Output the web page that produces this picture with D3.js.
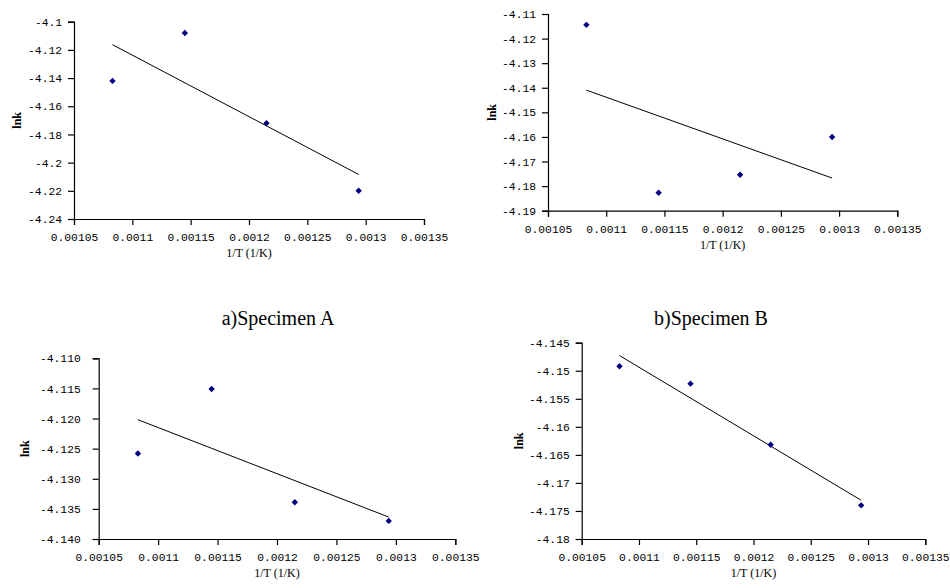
<!DOCTYPE html>
<html><head><meta charset="utf-8">
<script src="https://cdn.jsdelivr.net/npm/d3@7"></script>
<style>
body{margin:0;background:#fff;}
svg{display:block;}
.tick text{font-family:"Liberation Mono",monospace;font-size:11.3px;fill:#000;}
</style></head>
<body>
<svg id="chart" width="950" height="588"></svg>
<script>
// ---- data ----
const invT = [0.001083, 0.001145, 0.001215, 0.001294];
const lnkA1 = [-4.142, -4.108, -4.172, -4.220];
const lnkB1 = [-4.1144, -4.1827, -4.1754, -4.160];
const lnkA2 = [-4.1258, -4.1151, -4.1339, -4.1370];
const lnkB2 = [-4.1492, -4.1523, -4.1632, -4.1740];

const xTicks = [0.00105, 0.0011, 0.00115, 0.0012, 0.00125, 0.0013, 0.00135];
const xTickLabels = ["0.00105", "0.0011", "0.00115", "0.0012", "0.00125", "0.0013", "0.00135"];

const yTicksA1 = [-4.1, -4.12, -4.14, -4.16, -4.18, -4.2, -4.22, -4.24];
const yLabelsA1 = ["-4.1", "-4.12", "-4.14", "-4.16", "-4.18", "-4.2", "-4.22", "-4.24"];
const yTicksB1 = [-4.11, -4.12, -4.13, -4.14, -4.15, -4.16, -4.17, -4.18, -4.19];
const yLabelsB1 = ["-4.11", "-4.12", "-4.13", "-4.14", "-4.15", "-4.16", "-4.17", "-4.18", "-4.19"];
const yTicksA2 = [-4.110, -4.115, -4.120, -4.125, -4.130, -4.135, -4.140];
const yLabelsA2 = ["-4.110", "-4.115", "-4.120", "-4.125", "-4.130", "-4.135", "-4.140"];
const yTicksB2 = [-4.145, -4.15, -4.155, -4.16, -4.165, -4.17, -4.175, -4.18];
const yLabelsB2 = ["-4.145", "-4.15", "-4.155", "-4.16", "-4.165", "-4.17", "-4.175", "-4.18"];

const titles = ["a)Specimen A", "b)Specimen B"];
const xTitle = "1/T (1/K)";
const yTitle = "lnk";

// ---- layout ----
const panels = [
  {y: lnkA1, yt: yTicksA1, yl: yLabelsA1, box: {l: 74, r: 424, t: 21.7, b: 219}, pad: 6, ytx: 21},
  {y: lnkB1, yt: yTicksB1, yl: yLabelsB1, box: {l: 548, r: 897.3, t: 14, b: 210.7}, pad: 6, ytx: 496},
  {y: lnkA2, yt: yTicksA2, yl: yLabelsA2, box: {l: 98.7, r: 455.3, t: 358.3, b: 539}, pad: 12, ytx: 29},
  {y: lnkB2, yt: yTicksB2, yl: yLabelsB2, box: {l: 581.7, r: 925.3, t: 342.7, b: 539}, pad: 6, ytx: 523}
];

const svg = d3.select("#chart");

function fit(xs, ys) {
  const mx = d3.mean(xs), my = d3.mean(ys);
  const sxy = d3.sum(xs, (x, i) => (x - mx) * (ys[i] - my));
  const sxx = d3.sum(xs, x => (x - mx) * (x - mx));
  const m = sxy / sxx;
  return x => my + m * (x - mx);
}

panels.forEach(p => {
  const b = p.box;
  const x = d3.scaleLinear().domain([xTicks[0], xTicks[xTicks.length - 1]]).range([b.l, b.r]);
  const y = d3.scaleLinear().domain([p.yt[p.yt.length - 1], p.yt[0]]).range([b.b, b.t]);
  const g = svg.append("g");

  g.append("g").attr("transform", `translate(0,${b.b})`)
    .call(d3.axisBottom(x).tickValues(xTicks).tickFormat((d, i) => xTickLabels[i]).tickSizeOuter(0).tickSize(6).tickPadding(8));
  g.append("g").attr("transform", `translate(${b.l},0)`)
    .call(d3.axisLeft(y).tickValues(p.yt).tickFormat((d, i) => p.yl[i]).tickSizeOuter(0).tickSize(6).tickPadding(p.pad));
  g.selectAll(".domain, .tick line").attr("stroke", "#000").attr("stroke-width", 1.2);

  const f = fit(invT, p.y);
  const x0 = d3.min(invT), x1 = d3.max(invT);
  g.append("path")
    .attr("d", d3.line().x(d => x(d)).y(d => y(f(d)))([x0, x1]))
    .attr("stroke", "#000").attr("stroke-width", 1).attr("fill", "none");

  g.selectAll(".pt").data(invT).join("path")
    .attr("transform", (d, i) => `translate(${x(d)},${y(p.y[i])})`)
    .attr("d", d3.symbol(d3.symbolDiamond2, 26))
    .attr("fill", "#000080");

  g.append("text")
    .attr("x", (b.l + b.r) / 2).attr("y", b.b + 38)
    .attr("text-anchor", "middle")
    .style("font-family", "'Liberation Serif', serif").style("font-size", "12px")
    .text(xTitle);
  g.append("text")
    .attr("transform", `translate(${p.ytx},${(b.t + b.b) / 2}) rotate(-90)`)
    .attr("text-anchor", "middle")
    .style("font-family", "'Liberation Serif', serif").style("font-size", "12px").style("font-weight", "bold")
    .text(yTitle);
});

svg.append("text").attr("x", 278).attr("y", 325).attr("text-anchor", "middle")
  .style("font-family", "'Liberation Serif', serif").style("font-size", "20px").text(titles[0]);
svg.append("text").attr("x", 711).attr("y", 325).attr("text-anchor", "middle")
  .style("font-family", "'Liberation Serif', serif").style("font-size", "20px").text(titles[1]);
</script>
</body></html>
